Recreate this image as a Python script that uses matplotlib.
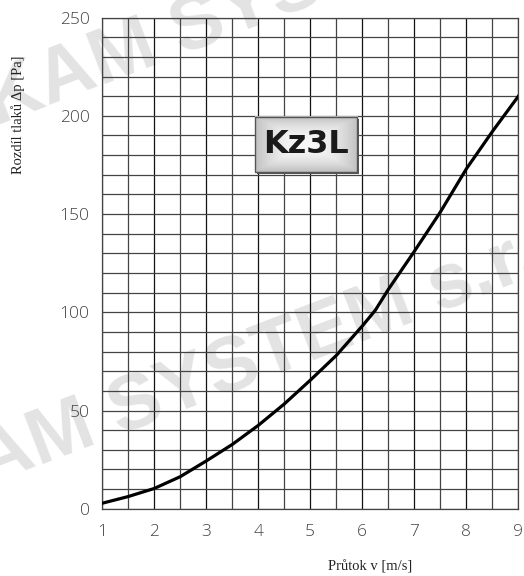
import numpy as np
import matplotlib.pyplot as plt
from matplotlib.patches import Rectangle
from matplotlib.ticker import MultipleLocator

# flow velocity [m/s] and pressure drop [Pa]
velocity = [1, 1.5, 2, 2.5, 3, 3.5, 4, 4.5, 5, 5.5, 6, 6.25, 6.5, 7, 7.5, 8, 8.5, 9]
pressure = [2.8, 6.2, 10.3, 16.3, 24.3, 32.7, 42.4, 53.3, 65.4, 78, 93, 101, 111.6, 131, 151, 173, 192, 210]

x_ticks = [1, 2, 3, 4, 5, 6, 7, 8, 9]
y_ticks = [0, 50, 100, 150, 200, 250]
label = "Kz3L"

fig = plt.figure(figsize=(5.24, 5.76), dpi=100)
ax = fig.add_axes([0.1947, 0.1167, 0.7946, 0.8528])
ax.set_facecolor('none')

# watermark, behind the grid
wm = dict(fontsize=56, fontweight='bold', color='#e3e3e3', rotation=21,
          rotation_mode='anchor', ha='center', va='center', zorder=-1,
          family='Liberation Sans')
fig.text(263 / 524, 1 - 358 / 576, "KAM SYSTEM s.r.o.", **wm)
fig.text(325 / 524, 1 - (-22) / 576, "KAM SYSTEM s.r.o.", **wm)

ax.set_xlim(1, 9)
ax.set_ylim(0, 250)
ax.xaxis.set_minor_locator(MultipleLocator(0.5))
ax.yaxis.set_minor_locator(MultipleLocator(10))
ax.set_xticks(x_ticks)
ax.set_yticks(y_ticks)
ax.grid(which='major', axis='x', color='#111111', lw=0.9)
ax.grid(which='minor', color='#444444', lw=0.9)
ax.grid(which='major', axis='y', color='#444444', lw=0.9)
ax.set_axisbelow(True)
for s in ax.spines.values():
    s.set_color('#444444')
    s.set_linewidth(0.9)

ax.tick_params(which='both', length=0)
ax.tick_params(axis='y', pad=9)
ax.tick_params(axis='x', pad=11)
for t in ax.get_xticklabels() + ax.get_yticklabels():
    t.set_family('Open Sans')
    t.set_fontweight(300)
    t.set_fontsize(12.5)
    t.set_color('#444444')

ax.plot(velocity, pressure, color='black', lw=2.3, zorder=5,
        solid_joinstyle='round')

# label box with grey gradient
x0, x1, y0, y1 = 0.368, 0.613, 0.686, 0.798
gx = np.linspace(-1, 1, 200)
gy = np.linspace(-1, 1, 60)
X, Y = np.meshgrid(gx, gy)
grad = 0.97 - 0.22 * np.maximum(np.abs(X) ** 2, np.abs(Y) ** 2)
ax.imshow(grad, cmap='gray', vmin=0, vmax=1, extent=[x0, x1, y0, y1],
          transform=ax.transAxes, aspect='auto', zorder=6)
ax.add_patch(Rectangle((x0 + 0.004, y0 - 0.005), x1 - x0, y1 - y0,
                       transform=ax.transAxes, fc='#555555', ec='none', zorder=5.5))
ax.add_patch(Rectangle((x0, y0), x1 - x0, y1 - y0, transform=ax.transAxes,
                       fc='none', ec='#555555', lw=1.0, zorder=7))
ax.text((x0 + x1) / 2, (y0 + y1) / 2, label, transform=ax.transAxes,
        ha='center', va='center', fontsize=23, fontweight='heavy',
        family='DejaVu Sans', color='#1a1a1a', zorder=8)
ax.set_xlim(1, 9)
ax.set_ylim(0, 250)

fig.text(18 / 524, 1 - 115 / 576, "Rozdíl tlaků Δp [Pa]", rotation=90,
         ha='center', va='center', family='Liberation Serif', fontsize=10.5,
         color='#222222')
fig.text(370 / 524, 1 - 567 / 576, "Průtok v [m/s]", ha='center', va='center',
         family='Liberation Serif', fontsize=10.5, color='#222222')

fig.savefig('out.png', dpi=100)
